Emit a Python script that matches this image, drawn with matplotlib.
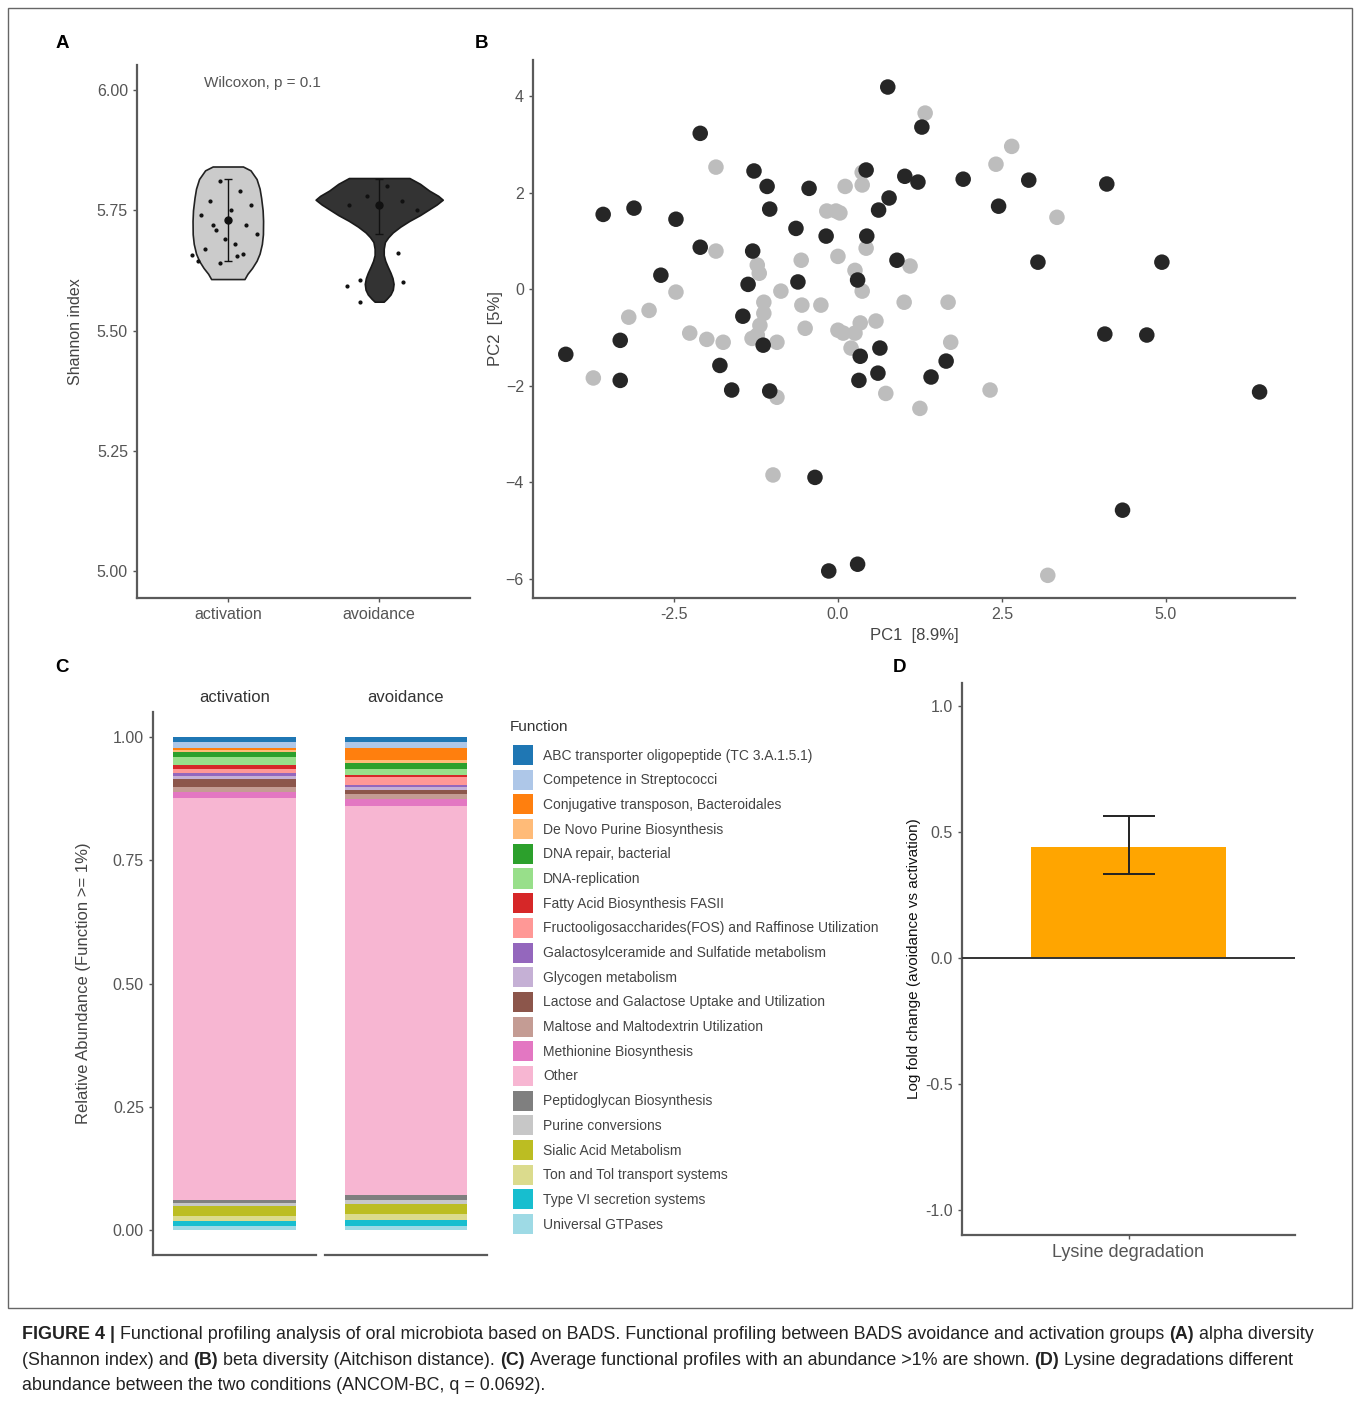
import numpy as np
import matplotlib
matplotlib.use('Agg')
import matplotlib.pyplot as plt
from matplotlib.patches import Patch, Rectangle
from matplotlib.transforms import IdentityTransform
from matplotlib import font_manager

# ---- panel A: Shannon index violins ----
groups = ['activation', 'avoidance']
act_v = [5.841, 5.833, 5.815, 5.795, 5.776, 5.750, 5.728, 5.700, 5.680, 5.660, 5.645, 5.630, 5.618, 5.607]
act_w = [0.10, 0.15, 0.19, 0.21, 0.22, 0.23, 0.233, 0.232, 0.225, 0.21, 0.19, 0.16, 0.13, 0.11]
avo_v = [5.817, 5.805, 5.791, 5.780, 5.772, 5.762, 5.752, 5.740, 5.728, 5.716, 5.704, 5.694, 5.684,
         5.670, 5.657, 5.645, 5.633, 5.620, 5.609, 5.597, 5.585, 5.575, 5.566, 5.560]
avo_w = [0.20, 0.27, 0.33, 0.39, 0.42, 0.38, 0.33, 0.27, 0.20, 0.14, 0.09, 0.06, 0.038,
         0.03, 0.03, 0.04, 0.056, 0.075, 0.088, 0.095, 0.09, 0.075, 0.05, 0.03]
act_jx = [-0.05, 0.08, -0.12, 0.15, 0.02, -0.18, 0.12, -0.08, 0.19, -0.02, 0.05, -0.15, 0.10, -0.235, -0.20, -0.05, 0.06, -0.10]
act_jy = [5.81, 5.79, 5.77, 5.76, 5.75, 5.74, 5.72, 5.71, 5.70, 5.69, 5.68, 5.67, 5.66, 5.658, 5.645, 5.64, 5.655, 5.72]
avo_jx = [0.126, -0.126, -0.215, 0.16, -0.126, 0.05, -0.08, 0.15, -0.2, 0.25]
avo_jy = [5.662, 5.605, 5.593, 5.600, 5.560, 5.80, 5.78, 5.77, 5.76, 5.75]
means = [5.730, 5.761]
err_lo = [5.645, 5.700]
err_hi = [5.815, 5.815]

# ---- panel B: PCA ----
dark_x = [0.76, -2.10, 1.28, -3.58, -3.11, -2.47, -1.28, -1.08, -0.44, -1.04, 0.43, 1.02, 1.22, 1.91, 2.91,
          4.10, 0.78, 0.62, 2.45, -0.64, -0.18, 0.44, -2.10, -1.30, -2.70, 0.90, 3.05, 4.94, -1.37, -0.61,
          0.30, -1.45, -4.15, -3.32, -1.14, 0.34, 0.64, -1.80, 1.65, 4.07, 4.71, -3.32, -1.62, -1.04, 0.32,
          0.61, 1.42, 6.43, -0.35, 4.34, -0.14, 0.30]
dark_y = [4.19, 3.23, 3.36, 1.55, 1.68, 1.45, 2.45, 2.13, 2.09, 1.66, 2.47, 2.34, 2.22, 2.28, 2.26,
          2.18, 1.89, 1.64, 1.72, 1.26, 1.10, 1.10, 0.87, 0.79, 0.29, 0.60, 0.56, 0.56, 0.10, 0.15,
          0.19, -0.56, -1.35, -1.06, -1.16, -1.39, -1.22, -1.58, -1.49, -0.93, -0.95, -1.89, -2.09, -2.11, -1.89,
          -1.74, -1.82, -2.13, -3.90, -4.58, -5.84, -5.70]
light_x = [1.33, 2.65, -1.86, 2.41, 0.37, 0.37, 0.11, -0.17, -0.03, 0.03, 3.34, -1.86, -1.23, -1.20, -0.56,
           0.00, 0.43, 1.10, -2.47, -0.87, 0.37, 0.26, -2.88, -3.19, -1.13, -1.13, -1.19, -0.55, -0.26, 1.01,
           1.68, -2.26, -2.00, -1.75, -1.31, -0.93, -0.50, 0.00, 0.08, 0.26, 0.58, 0.34, 0.20, 1.72, -3.73,
           -0.93, 0.73, 1.25, 2.32, -0.99, 3.20, -1.23]
light_y = [3.65, 2.96, 2.53, 2.59, 2.42, 2.16, 2.13, 1.62, 1.62, 1.58, 1.49, 0.79, 0.50, 0.33, 0.60,
           0.68, 0.85, 0.48, -0.06, -0.04, -0.04, 0.39, -0.44, -0.58, -0.27, -0.50, -0.75, -0.33, -0.33, -0.27,
           -0.27, -0.91, -1.04, -1.10, -1.02, -1.10, -0.81, -0.85, -0.91, -0.91, -0.66, -0.70, -1.22, -1.10, -1.84,
           -2.24, -2.16, -2.47, -2.09, -3.85, -5.93, -0.95]

# ---- panel C: functional profiles (legend order, top of stack first) ----
functions = ['ABC transporter oligopeptide (TC 3.A.1.5.1)', 'Competence in Streptococci',
             'Conjugative transposon, Bacteroidales', 'De Novo Purine Biosynthesis',
             'DNA repair, bacterial', 'DNA-replication', 'Fatty Acid Biosynthesis FASII',
             'Fructooligosaccharides(FOS) and Raffinose Utilization',
             'Galactosylceramide and Sulfatide metabolism', 'Glycogen metabolism',
             'Lactose and Galactose Uptake and Utilization', 'Maltose and Maltodextrin Utilization',
             'Methionine Biosynthesis', 'Other', 'Peptidoglycan Biosynthesis', 'Purine conversions',
             'Sialic Acid Metabolism', 'Ton and Tol transport systems', 'Type VI secretion systems',
             'Universal GTPases']
func_colors = ['#1f77b4', '#aec7e8', '#ff7f0e', '#ffbb78', '#2ca02c', '#98df8a', '#d62728', '#ff9896',
               '#9467bd', '#c5b0d5', '#8c564b', '#c49c94', '#e377c2', '#f7b6d2', '#7f7f7f', '#c7c7c7',
               '#bcbd22', '#dbdb8d', '#17becf', '#9edae5']
abund_act = [0.010, 0.012, 0.004, 0.006, 0.010, 0.016, 0.008, 0.008, 0.006, 0.006,
             0.016, 0.010, 0.012, 0.814, 0.006, 0.006, 0.020, 0.012, 0.010, 0.008]
abund_avo = [0.010, 0.012, 0.025, 0.006, 0.012, 0.012, 0.004, 0.016, 0.004, 0.006,
             0.010, 0.010, 0.014, 0.787, 0.010, 0.008, 0.020, 0.014, 0.012, 0.008]

# ---- panel D: ANCOM-BC ----
taxa_d = ['Lysine degradation']
lfc = [0.44]
lfc_lo = [0.335]
lfc_hi = [0.562]

W, H = 1360, 1401
fig = plt.figure(figsize=(W / 100, H / 100), dpi=100)
plt.rcParams['font.family'] = ['Liberation Sans', 'DejaVu Sans']

SP = '#5a5a5a'
TK = '#555555'
LB = '#444444'


def box(x0, y0, x1, y1):
    return [x0 / W, 1 - y1 / H, (x1 - x0) / W, (y1 - y0) / H]


def style(ax, left=True):
    ax.spines['top'].set_visible(False)
    ax.spines['right'].set_visible(False)
    for s in ['left', 'bottom']:
        ax.spines[s].set_color(SP)
        ax.spines[s].set_linewidth(1.6)
    if not left:
        ax.spines['left'].set_visible(False)
        ax.tick_params(axis='y', left=False, labelleft=False)
    ax.tick_params(colors=TK, labelcolor=TK, labelsize=11.5, length=3, width=1)


# panel A
axA = fig.add_axes(box(137, 65, 470, 598))
style(axA)
axA.fill_betweenx(act_v, 1 - np.array(act_w), 1 + np.array(act_w), facecolor='#cbcbcb', edgecolor='#222222', lw=1.2)
axA.fill_betweenx(avo_v, 2 - np.array(avo_w), 2 + np.array(avo_w), facecolor='#333333', edgecolor='#1a1a1a', lw=1.2)
axA.scatter(1 + np.array(act_jx), act_jy, s=4, color='#111111', zorder=3)
axA.scatter(2 + np.array(avo_jx), avo_jy, s=4, color='#111111', zorder=3)
for i in range(2):
    axA.errorbar([i + 1], [means[i]], yerr=[[means[i] - err_lo[i]], [err_hi[i] - means[i]]],
                 fmt='o', color='#111111', ms=5, capsize=3, elinewidth=1, zorder=4)
axA.text(1.23, 6.015, 'Wilcoxon, p = 0.1', color=TK, fontsize=11, ha='center', va='center')
axA.set_xlim(0.4, 2.6)
axA.set_ylim(4.944, 6.052)
axA.set_xticks([1, 2])
axA.set_xticklabels(groups)
axA.set_yticks([5.0, 5.25, 5.5, 5.75, 6.0])
axA.set_yticklabels(['5.00', '5.25', '5.50', '5.75', '6.00'])
axA.set_ylabel('Shannon index', color=LB, fontsize=11.5, labelpad=10)

# panel B
axB = fig.add_axes(box(533, 60, 1295, 598))
style(axB)
axB.scatter(light_x, light_y, s=125, color='#bdbdbd', edgecolors='none', zorder=2)
axB.scatter(dark_x, dark_y, s=125, color='#262626', edgecolors='none', zorder=3)
axB.set_xlim(-4.65, 6.97)
axB.set_ylim(-6.40, 4.75)
axB.set_xticks([-2.5, 0, 2.5, 5])
axB.set_xticklabels(['-2.5', '0.0', '2.5', '5.0'])
axB.set_yticks([-6, -4, -2, 0, 2, 4])
axB.set_xlabel('PC1  [8.9%]', color=LB, fontsize=12)
axB.set_ylabel('PC2  [5%]', color=LB, fontsize=12, labelpad=2)

# panel C
panels = [(153, 316, abund_act, 'activation', True), (325, 487, abund_avo, 'avoidance', False)]
for x0, x1, vals, name, left in panels:
    ax = fig.add_axes(box(x0, 712, x1, 1255))
    style(ax, left)
    rv = list(reversed(vals))
    rc = list(reversed(func_colors))
    bottoms = np.concatenate([[0], np.cumsum(rv)[:-1]])
    ax.bar([1] * len(rv), rv, bottom=bottoms, width=0.9, color=rc, edgecolor='none')
    ax.set_xlim(0.4, 1.6)
    ax.set_ylim(-0.05, 1.05)
    ax.set_xticks([])
    ax.set_yticks([0, 0.25, 0.5, 0.75, 1.0])
    ax.set_yticklabels(['0.00', '0.25', '0.50', '0.75', '1.00'])
    ax.set_title(name, color='#333333', fontsize=12, pad=7)
    if left:
        ax.set_ylabel('Relative Abundance (Function >= 1%)', color=LB, fontsize=12, labelpad=16)

fig.text(510 / W, 1 - 727 / H, 'Function', fontsize=11, color='#333333', ha='left', va='center')
handles = [Patch(facecolor=c, edgecolor='none') for c in func_colors]
leg = fig.legend(handles, functions, loc='upper left', bbox_to_anchor=(513 / W, 1 - 745 / H),
                 frameon=False, fontsize=10, handlelength=1.44, handleheight=1.85,
                 labelspacing=0.33, handletextpad=0.72, borderpad=0, borderaxespad=0)
for t in leg.get_texts():
    t.set_color(LB)

# panel D
axD = fig.add_axes(box(962, 683, 1295, 1235))
style(axD)
axD.bar([0], lfc, width=0.7, color='#ffa500', edgecolor='none', zorder=2)
axD.errorbar([0], lfc, yerr=[[lfc[0] - lfc_lo[0]], [lfc_hi[0] - lfc[0]]], fmt='none',
             ecolor='#222222', elinewidth=1.4, capsize=19, capthick=1.4, zorder=3)
axD.axhline(0, color='#333333', lw=1.4, zorder=3)
axD.set_xlim(-0.6, 0.6)
axD.set_ylim(-1.099, 1.091)
axD.set_xticks([0])
axD.set_xticklabels(taxa_d, fontsize=13)
axD.set_yticks([-1, -0.5, 0, 0.5, 1])
axD.set_yticklabels(['-1.0', '-0.5', '0.0', '0.5', '1.0'])
axD.set_ylabel('Log fold change (avoidance vs activation)', color='#111111', fontsize=11, labelpad=3)

# panel letters
for lab, px, py in [('A', 62, 43), ('B', 481, 43), ('C', 62, 668), ('D', 899, 668)]:
    fig.text(px / W, 1 - py / H, lab, fontsize=13.5, fontweight='bold', ha='center', va='center')

# frame around the panels
fig.add_artist(Rectangle((8 / W, 1 - 1308 / H), 1344 / W, 1300 / H, transform=fig.transFigure,
                         fill=False, edgecolor='#666666', lw=1))

# caption with bold run markers
names = {f.name for f in font_manager.fontManager.ttflist}
cap_font = ['Liberation Sans Narrow'] if 'Liberation Sans Narrow' in names else ['Liberation Sans']
lines = [
    [('FIGURE 4 |', True), ('Functional profiling analysis of oral microbiota based on BADS. Functional profiling '
                            'between BADS avoidance and activation groups', False), ('(A)', True),
     ('alpha diversity', False)],
    [('(Shannon index) and', False), ('(B)', True), ('beta diversity (Aitchison distance).', False),
     ('(C)', True), ('Average functional profiles with an abundance >1% are shown.', False), ('(D)', True),
     ('Lysine degradations different', False)],
    [('abundance between the two conditions (ANCOM-BC, q = 0.0692).', False)],
]
renderer = fig.canvas.get_renderer()


def run_width(txt, bold, size):
    t = fig.text(0, 0, txt, fontsize=size, family=cap_font, fontweight='bold' if bold else 'normal',
                 transform=IdentityTransform())
    w = t.get_window_extent(renderer).width
    t.remove()
    return w


def line_width(runs, size):
    sp = run_width('a a', False, size) - run_width('aa', False, size)
    return sum(run_width(r, b, size) for r, b in runs) + sp * (len(runs) - 1)


size = 10 * 1296 / line_width(lines[0], 10)
space = run_width('a a', False, size) - run_width('aa', False, size)
for runs, base in zip(lines, [1339, 1365, 1390]):
    x = 22
    for txt, bold in runs:
        t = fig.text(x, H - base, txt, fontsize=size, family=cap_font,
                     fontweight='bold' if bold else 'normal', color='#222222',
                     transform=IdentityTransform(), va='baseline')
        x += t.get_window_extent(renderer).width + space

fig.savefig('out.png', dpi=100)
